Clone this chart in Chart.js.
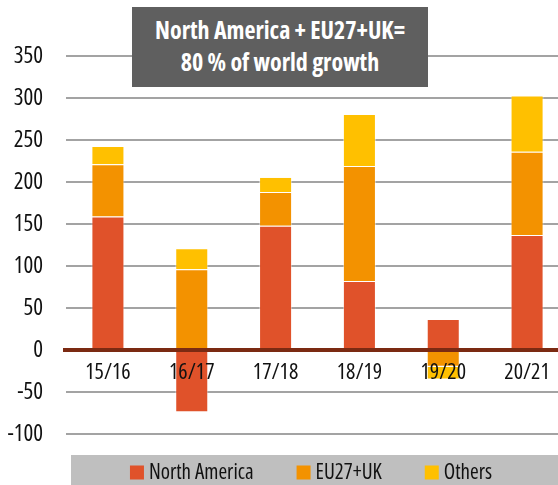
<!DOCTYPE html>
<html>
<head>
<meta charset="utf-8">
<script src="https://cdn.jsdelivr.net/npm/chart.js@4/dist/chart.umd.min.js"></script>
<style>
  html, body { margin: 0; padding: 0; background: #fff; overflow: hidden; width: 558px; height: 485px; }
  #wrap { position: relative; width: 570px; height: 485px; }
  #c { position: absolute; left: 0; top: 0; }
  #titlebox {
    position: absolute; left: 132px; top: 7px; width: 296px; height: 80px;
    background: #5F5F5F; color: #fff; text-align: center;
    font-family: 'Open Sans', sans-serif; font-stretch: condensed;
    font-weight: bold; font-size: 24px; line-height: 32px;
    box-sizing: border-box; padding-top: 7px; white-space: nowrap;
  }
</style>
</head>
<body>
<div id="wrap">
  <canvas id="c" width="570" height="485"></canvas>
  <div id="titlebox">North America + EU27+UK=<br>80 % of world growth</div>
</div>
<script>
const categories = ['15/16', '16/17', '17/18', '18/19', '19/20', '20/21'];
const seriesNames = ['North America', 'EU27+UK', 'Others'];
const northAmerica = [159, -74, 148, 82, 37, 137];
const eu27uk = [62, 96, 40, 137, -20, 99];
const others = [22, 25, 18, 62, -15, 67];
const yTicks = { min: -100, max: 350, step: 50 };

const FAMILY = "'Open Sans', sans-serif";
const COLORS = ['#E0522A', '#F39200', '#FFC000'];

const zeroLine = {
  id: 'zeroLine',
  afterDatasetsDraw(chart) {
    const ctx = chart.ctx, a = chart.chartArea;
    const y = chart.scales.y.getPixelForValue(0);
    ctx.save();
    ctx.strokeStyle = '#7B2A12';
    ctx.lineWidth = 4;
    ctx.beginPath();
    ctx.moveTo(a.left - 3, y);
    ctx.lineTo(a.right, y);
    ctx.stroke();
    ctx.restore();
  }
};

const boxLegend = {
  id: 'boxLegend',
  afterDraw(chart) {
    const ctx = chart.ctx;
    ctx.save();
    ctx.fillStyle = '#BFBFBF';
    ctx.fillRect(71, 455, chart.width - 71, 30);
    ctx.font = 'condensed 21px ' + FAMILY;
    ctx.textBaseline = 'middle';
    ctx.textAlign = 'left';
    const items = chart.data.datasets.map(ds => ({
      text: ds.label, color: ds.backgroundColor,
      w: 14 + 5 + ctx.measureText(ds.label).width
    }));
    const gap = 43;
    const total = items.reduce((s, i) => s + i.w, 0) + gap * (items.length - 1);
    let x = 311 - total / 2;
    const cy = 472.5;
    items.forEach(it => {
      ctx.fillStyle = it.color;
      ctx.fillRect(x, cy - 7, 14, 14);
      ctx.fillStyle = '#111';
      ctx.fillText(it.text, x + 19, cy + 1);
      x += it.w + gap;
    });
    ctx.restore();
  }
};

const seriesData = [northAmerica, eu27uk, others];

new Chart(document.getElementById('c'), {
  type: 'bar',
  data: {
    labels: categories,
    datasets: seriesNames.map((name, i) => ({
      label: name,
      data: seriesData[i],
      backgroundColor: COLORS[i],
      borderColor: 'rgba(255,255,255,0.45)',
      borderWidth: 1,
      barPercentage: 0.394,
      categoryPercentage: 1.0
    }))
  },
  options: {
    responsive: false,
    animation: false,
    devicePixelRatio: 1,
    layout: { padding: { top: 56, bottom: 51, left: 0, right: 1 } },
    plugins: { legend: { display: false }, tooltip: { enabled: false }, title: { display: false } },
    scales: {
      x: {
        stacked: true,
        position: { y: 0 },
        z: 1,
        grid: { display: false, drawTicks: false },
        border: { display: false },
        ticks: { z: 1, font: { family: FAMILY, size: 22, weight: 'condensed' }, color: '#111', padding: 10, maxRotation: 0 }
      },
      y: {
        stacked: true,
        min: yTicks.min,
        max: yTicks.max,
        afterFit: s => { s.width = 66; },
        grid: {
          drawTicks: false,
          lineWidth: 2,
          color: c => (c.tick && c.tick.value === 0) ? 'rgba(0,0,0,0)' : '#A3A3A3'
        },
        border: { display: false },
        ticks: { stepSize: yTicks.step, font: { family: FAMILY, size: 23, weight: 'condensed' }, color: '#111', padding: 23 }
      }
    }
  },
  plugins: [zeroLine, boxLegend]
});
</script>
</body>
</html>
